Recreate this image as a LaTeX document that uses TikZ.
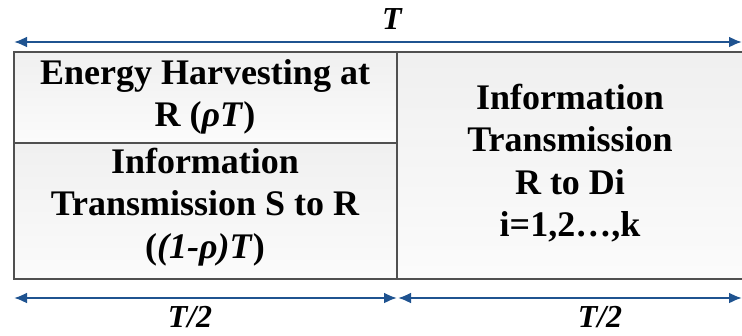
\documentclass[tikz,border=0pt]{standalone}
\usepackage{fontspec}
\setmainfont{Liberation Serif}
\usetikzlibrary{arrows.meta}
\definecolor{arrblue}{HTML}{1F5390}
\definecolor{boxline}{HTML}{505050}
\tikzset{
  dimarrow/.style={draw=arrblue, line width=2.2pt, {Latex[length=13pt,width=11pt]}-{Latex[length=13pt,width=11pt]}},
  cell/.style={draw=boxline, line width=1.8pt, top color=gray!12, bottom color=gray!3},
  txt/.style={font=\fontsize{36}{42.5}\selectfont\bfseries, align=center},
  lbl/.style={font=\fontsize{32}{34}\selectfont\bfseries\itshape}
}
\begin{document}
\begin{tikzpicture}[x=1pt,y=-1pt]
\useasboundingbox (0,0) rectangle (742,335);
\path[cell] (14,52) rectangle (397,143);
\path[cell] (14,143) rectangle (397,279);
\path[cell] (397,52) rectangle (748,279);
\node[txt] (eh) at (205,97) {Energy Harvesting at\\R (\textit{ρT})};
\node[txt] (its) at (205,207) {Information\\Transmission S to R\\(\textit{(1-ρ)T})};
\node[txt] (itr) at (570,163) {Information\\Transmission\\R to Di\\i=1,2…,k};
\coordinate (tl) at (14,42);
\coordinate (tr) at (742,42);
\draw[dimarrow] (tl) -- (tr);
\node[lbl] (T) at (392,19) {T};
\coordinate (bl) at (14,298);
\coordinate (bm1) at (397,298);
\coordinate (bm2) at (398,298);
\coordinate (br) at (742,298);
\draw[dimarrow] (bl) -- (bm1);
\draw[dimarrow] (bm2) -- (br);
\node[lbl] (h1) at (190,317) {T/2};
\node[lbl] (h2) at (600,317) {T/2};
\end{tikzpicture}
\end{document}
